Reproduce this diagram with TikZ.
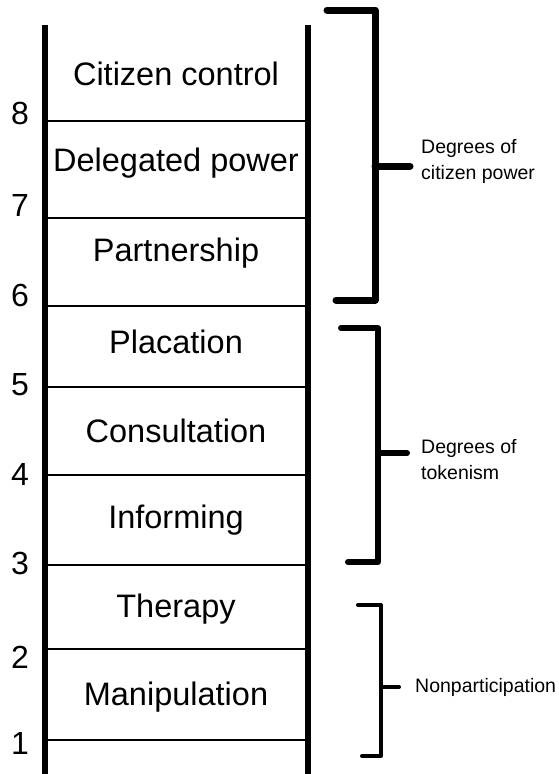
\documentclass[tikz,border=0pt]{standalone}
\usepackage{fontspec}
\setmainfont{Liberation Sans}
\begin{document}
\begin{tikzpicture}[x=1pt,y=-1pt,
  rail/.style={line width=6pt},
  rung/.style={line width=1.5pt},
  brace/.style={line width=#1, line cap=round, line join=round},
  rungtext/.style={font=\fontsize{32.5}{38}\selectfont, anchor=center, inner sep=0pt},
  numtext/.style={font=\fontsize{32}{38}\selectfont, anchor=center, inner sep=0pt},
  sidetext/.style={font=\fontsize{19.5}{26}\selectfont, anchor=west, align=left, inner sep=0pt}]
\useasboundingbox (0,0) rectangle (559,774);
% rails
\coordinate (lt) at (45,25); \coordinate (lb) at (45,780);
\coordinate (rt) at (308,25); \coordinate (rb) at (308,780);
\draw[rail] (lt) -- (lb);
\draw[rail] (rt) -- (rb);
% rungs
\foreach \y/\n in {121/r8,218/r7,306/r6,387/r5,475/r4,565/r3,649/r2,740/r1}{
  \coordinate (\n a) at (45,\y); \coordinate (\n b) at (308,\y);
  \draw[rung] (\n a) -- (\n b);
}
% rung labels
\node[rungtext] (t8) at (176,74) {Citizen control};
\node[rungtext] (t7) at (176,163) {Delegated power};
\node[rungtext] (t6) at (176,253) {Partnership};
\node[rungtext] (t5) at (176,342) {Placation};
\node[rungtext] (t4) at (176,431) {Consultation};
\node[rungtext] (t3) at (176,520) {Informing};
\node[rungtext] (t2) at (176,609) {Therapy};
\node[rungtext] (t1) at (176,697) {Manipulation};
% numbers
\foreach \y/\k in {113/8,205/7,295/6,385/5,474/4,563/3,657/2,743/1}{
  \node[numtext] (n\k) at (20,\y) {\k};
}
% bracket 1
\coordinate (a1) at (327,10); \coordinate (a2) at (375,10);
\coordinate (a3) at (375,300); \coordinate (a4) at (336,300);
\coordinate (am) at (375,166); \coordinate (ae) at (410,166);
\draw[brace=7pt] (a1) -- (a2) -- (a3) -- (a4);
\draw[brace=7pt] (am) -- (ae);
\node[sidetext] (s1) at (421,161) {Degrees of\\citizen power};
% bracket 2
\coordinate (b1) at (341,328); \coordinate (b2) at (378,328);
\coordinate (b3) at (378,562); \coordinate (b4) at (348,562);
\coordinate (bm) at (378,453); \coordinate (be) at (407,453);
\draw[brace=6pt] (b1) -- (b2) -- (b3) -- (b4);
\draw[brace=6pt] (bm) -- (be);
\node[sidetext] (s2) at (421,460) {Degrees of\\tokenism};
% bracket 3
\coordinate (c1) at (358,605); \coordinate (c2) at (381,605);
\coordinate (c3) at (381,756); \coordinate (c4) at (362,756);
\coordinate (cm) at (381,687); \coordinate (ce) at (399,687);
\draw[brace=4pt] (c1) -- (c2) -- (c3) -- (c4);
\draw[brace=4pt] (cm) -- (ce);
\node[sidetext] (s3) at (415,687) {Nonparticipation};
\end{tikzpicture}
\end{document}
